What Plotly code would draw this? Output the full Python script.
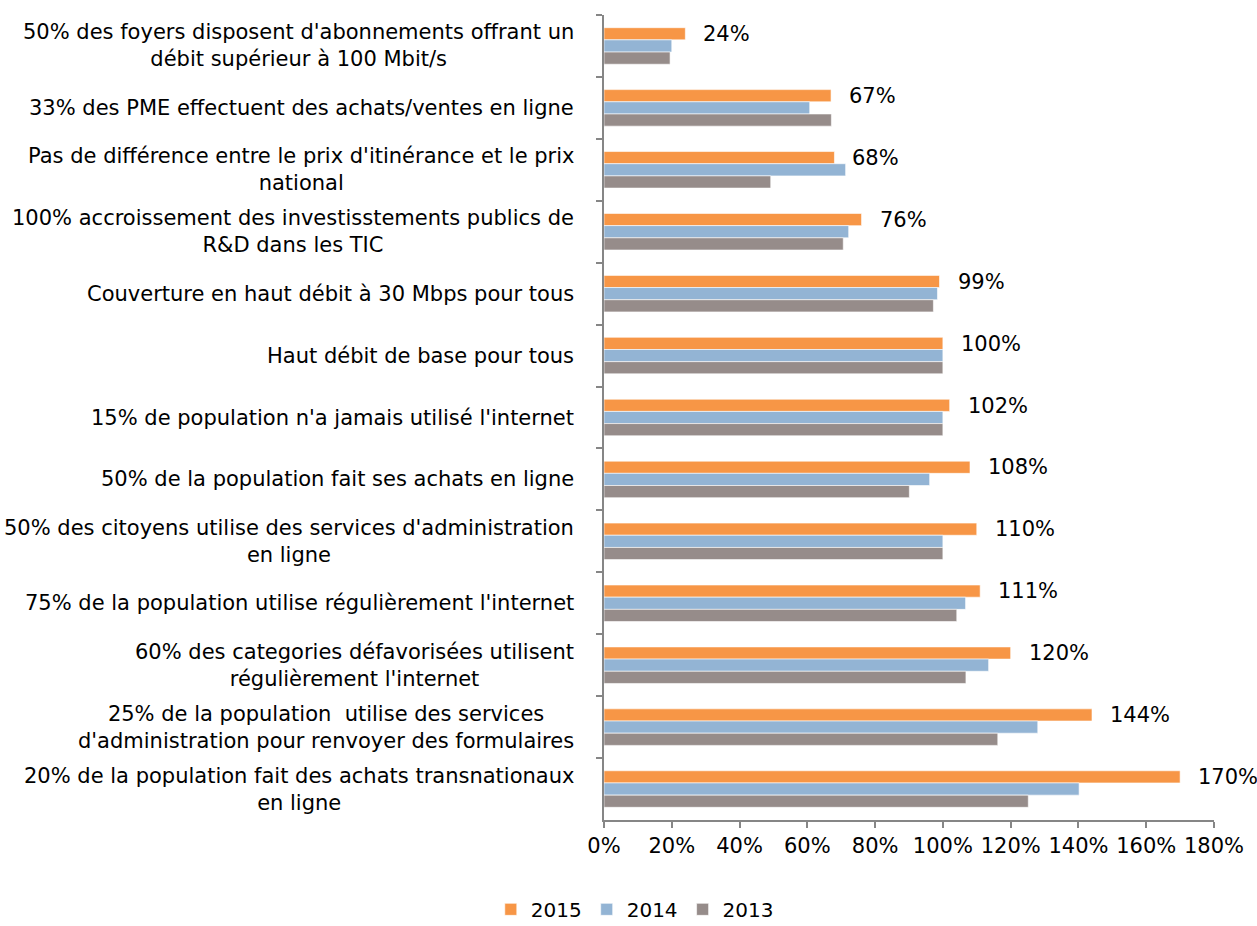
import plotly.graph_objects as go

categories = [
    "50% des foyers disposent d'abonnements offrant un<br>débit supérieur à 100 Mbit/s",
    "33% des PME effectuent des achats/ventes en ligne",
    "Pas de différence entre le prix d'itinérance et le prix<br>national",
    "100% accroissement des investisstements publics de<br>R&D dans les TIC",
    "Couverture en haut débit à 30 Mbps pour tous",
    "Haut débit de base pour tous",
    "15% de population n'a jamais utilisé l'internet",
    "50% de la population fait ses achats en ligne",
    "50% des citoyens utilise des services d'administration<br>en ligne",
    "75% de la population utilise régulièrement l'internet",
    "60% des categories défavorisées utilisent<br>régulièrement l'internet",
    "25% de la population  utilise des services<br>d'administration pour renvoyer des formulaires",
    "20% de la population fait des achats transnationaux<br>en ligne",
]
v2015 = [24, 67, 68, 76, 99, 100, 102, 108, 110, 111, 120, 144, 170]
v2014 = [20, 60.7, 71.3, 72.2, 98.4, 100, 100, 96.1, 100, 106.7, 113.5, 128, 140.2]
v2013 = [19.5, 67.1, 49.2, 70.6, 97.2, 100, 100, 90.1, 100, 104.1, 106.8, 116.2, 125.2]
x_ticks = [0, 20, 40, 60, 80, 100, 120, 140, 160, 180]

FONT = "DejaVu Sans"
W, H = 1257, 926
ML, MR, MT, MB = 604, 43, 15, 106
XMAX = 180
series = [("2015", v2015, "#F79646"), ("2014", v2014, "#93B4D4"), ("2013", v2013, "#968C8A")]

fig = go.Figure()
for name, vals, color in series:
    fig.add_trace(go.Bar(
        y=categories, x=vals, name=name, orientation="h",
        marker=dict(color=color, line=dict(color="white", width=0.6)),
        hoverinfo="x+name",
    ))

annotations = []
for cat in categories:
    annotations.append(dict(
        x=0, xref="paper", y=cat, yref="y", xanchor="right", yanchor="middle",
        xshift=-28, text=cat, showarrow=False, align="center",
        font=dict(family=FONT, size=21, color="#000000"),
    ))
px_per_unit = (W - ML - MR) / XMAX
for cat, v in zip(categories, v2015):
    label = f"{v}%"
    est_w = len(label) * 0.66 * 21
    room = (XMAX - v) * px_per_unit + MR - est_w - 4
    shift = max(4, min(16, room))
    annotations.append(dict(
        x=v, xref="x", y=cat, yref="y", xanchor="left", yanchor="middle",
        xshift=shift, yshift=12, text=label, showarrow=False,
        font=dict(family=FONT, size=21, color="#000000"),
    ))

fig.update_layout(
    width=W, height=H,
    margin=dict(l=ML, r=MR, t=MT, b=MB),
    paper_bgcolor="white", plot_bgcolor="white",
    barmode="group", bargap=0.41, bargroupgap=0,
    font=dict(family=FONT, size=21, color="#000000"),
    showlegend=True,
    legend=dict(orientation="h", xref="container", x=0.505, xanchor="center",
                yref="container", y=0.018, yanchor="middle",
                font=dict(family=FONT, size=20, color="#000000"),
                traceorder="normal", itemwidth=30),
    annotations=annotations,
)
fig.update_xaxes(
    range=[0, XMAX], tickvals=x_ticks, ticktext=[f"{t}%" for t in x_ticks],
    showgrid=False, zeroline=False, showline=True, linecolor="#868686", linewidth=1.5,
    ticks="outside", ticklen=6, tickcolor="#868686", tickwidth=1.5,
    tickfont=dict(family=FONT, size=21, color="#000000"),
)
fig.update_yaxes(
    autorange="reversed", showticklabels=False, tickson="boundaries",
    showgrid=False, zeroline=False, showline=True, linecolor="#868686", linewidth=1.5,
    ticks="outside", ticklen=6, tickcolor="#868686", tickwidth=1.5,
)

fig.write_html("out.html", config={"displayModeBar": False},
               post_script="document.body.style.margin='0';document.body.style.overflow='hidden';")
